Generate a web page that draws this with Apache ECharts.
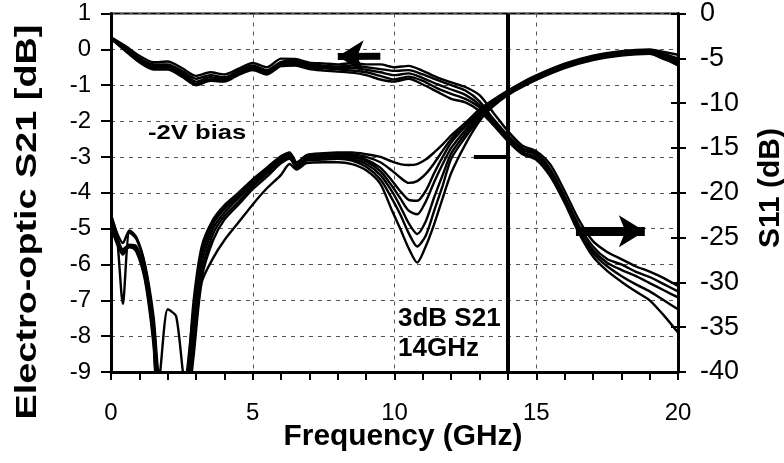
<!DOCTYPE html>
<html>
<head>
<meta charset="utf-8">
<script src="https://cdn.jsdelivr.net/npm/echarts@6/dist/echarts.min.js"></script>
<style>
  html, body { margin: 0; padding: 0; background: #fff; }
  #chart { width: 784px; height: 463px; }
</style>
</head>
<body>
<div id="chart"></div>
<script>
// Frequency grid (GHz) for the electro-optic response traces
const freqS21 = [0,0.5,1,1.5,2,2.5,3,3.5,4,4.5,5,5.5,6,6.5,7,7.5,8,8.5,9,9.5,10,10.5,11,11.5,12,12.5,13,13.5,14,14.5,15,15.5,16,16.5,17,17.5,18,18.5,19,19.5,20];

// Electro-optic S21 [dB], one trace per measurement
const s21a = [0.34,0.10,-0.18,-0.36,-0.34,-0.52,-0.74,-0.64,-0.70,-0.54,-0.38,-0.50,-0.26,-0.27,-0.37,-0.39,-0.42,-0.38,-0.42,-0.42,-0.50,-0.46,-0.60,-0.78,-0.92,-1.05,-1.28,-1.78,-2.28,-2.68,-2.84,-3.22,-3.95,-4.75,-5.35,-5.65,-5.85,-6.05,-6.20,-6.38,-6.60];
const s21b = [0.30,0.05,-0.25,-0.42,-0.42,-0.60,-0.82,-0.72,-0.78,-0.60,-0.45,-0.58,-0.35,-0.32,-0.42,-0.45,-0.48,-0.45,-0.50,-0.55,-0.60,-0.58,-0.70,-0.85,-1.00,-1.15,-1.45,-1.95,-2.40,-2.75,-2.90,-3.35,-4.10,-4.90,-5.50,-5.85,-6.00,-6.20,-6.35,-6.55,-6.75];
const s21c = [0.28,0.02,-0.30,-0.47,-0.47,-0.66,-0.90,-0.78,-0.82,-0.64,-0.50,-0.62,-0.40,-0.36,-0.46,-0.49,-0.52,-0.52,-0.57,-0.64,-0.72,-0.67,-0.80,-0.97,-1.12,-1.27,-1.55,-2.00,-2.45,-2.80,-2.95,-3.40,-4.15,-5.00,-5.60,-5.95,-6.15,-6.32,-6.52,-6.72,-6.92];
const s21d = [0.30,-0.02,-0.33,-0.52,-0.52,-0.72,-0.96,-0.84,-0.86,-0.68,-0.54,-0.66,-0.44,-0.41,-0.50,-0.53,-0.56,-0.59,-0.64,-0.74,-0.84,-0.76,-0.88,-1.08,-1.24,-1.38,-1.62,-2.06,-2.50,-2.86,-3.02,-3.48,-4.22,-5.06,-5.68,-6.05,-6.32,-6.55,-6.75,-7.00,-7.25];
const s21e = [0.30,-0.04,-0.36,-0.56,-0.56,-0.76,-1.00,-0.88,-0.90,-0.71,-0.58,-0.70,-0.47,-0.45,-0.55,-0.59,-0.62,-0.65,-0.72,-0.84,-0.90,-0.82,-0.98,-1.18,-1.38,-1.48,-1.72,-2.12,-2.56,-2.92,-3.08,-3.55,-4.28,-5.12,-5.78,-6.18,-6.48,-6.75,-7.00,-7.42,-7.90];

// Frequency grid (GHz) for the reflection traces
const freqS11 = [0,0.2,0.42,0.65,0.9,1.2,1.5,1.7,2.0,2.3,2.6,2.9,3.2,3.6,4.0,4.5,5.0,5.5,6.0,6.3,6.55,6.9,7.5,8.0,8.5,9.0,9.5,9.9,10.2,10.5,10.8,11.1,11.4,11.7,12.0,12.5,13.0,13.5,14.0,14.5,15.0,16.0,17.0,18.0,19.0,19.5,20.0];

// S11 (dB), one trace per measurement
const s11a = [-22.4,-24.4,-25.6,-24.2,-25.0,-28.0,-33.8,-40.5,-33.0,-33.8,-41.0,-33.5,-26.5,-23.3,-21.6,-20.2,-18.6,-17.3,-16.0,-15.5,-16.6,-15.8,-15.6,-15.5,-15.5,-15.7,-16.0,-16.5,-16.8,-16.9,-16.8,-16.3,-15.5,-14.6,-13.6,-12.2,-10.7,-9.6,-8.6,-7.7,-6.9,-5.6,-4.7,-4.2,-4.0,-4.3,-4.6];
const s11b = [-22.6,-24.6,-32.4,-24.4,-25.2,-28.2,-34.5,-42.0,-45.0,-45.0,-44.0,-32.5,-26.0,-23.0,-21.4,-20.0,-18.5,-17.2,-15.9,-15.6,-16.7,-15.9,-15.7,-15.6,-15.7,-16.0,-16.6,-17.5,-18.3,-18.9,-18.7,-17.9,-16.7,-15.3,-14.0,-12.4,-10.9,-9.7,-8.7,-7.8,-7.0,-5.7,-4.8,-4.3,-4.1,-4.5,-5.0];
const s11c = [-22.8,-24.8,-26.3,-25.8,-26.0,-28.8,-35.0,-43.0,-45.0,-44.0,-45.0,-34.0,-27.0,-23.5,-21.8,-20.4,-18.8,-17.5,-16.2,-15.8,-16.9,-16.1,-15.9,-15.8,-15.9,-16.3,-17.2,-18.6,-19.8,-20.8,-20.9,-19.8,-17.8,-16.0,-14.4,-12.6,-11.0,-9.8,-8.8,-7.9,-7.1,-5.8,-4.9,-4.4,-4.2,-4.6,-5.3];
const s11d = [-23.0,-25.0,-26.5,-26.0,-26.2,-29.0,-35.5,-44.0,-45.0,-45.0,-45.0,-35.0,-27.8,-24.0,-22.2,-20.6,-19.0,-17.7,-16.3,-15.9,-17.0,-16.2,-16.0,-15.9,-16.0,-16.5,-17.6,-19.2,-20.6,-22.0,-22.4,-21.0,-18.8,-16.8,-15.0,-13.0,-11.2,-9.9,-8.9,-8.0,-7.2,-5.9,-5.0,-4.5,-4.3,-4.8,-5.5];
const s11e = [-23.2,-25.2,-26.6,-26.1,-26.4,-29.3,-36.0,-45.0,-45.0,-45.0,-45.0,-36.5,-28.8,-24.6,-22.6,-21.0,-19.3,-17.9,-16.5,-16.0,-17.1,-16.3,-16.1,-16.0,-16.2,-16.8,-18.0,-19.8,-21.5,-23.4,-24.6,-23.2,-20.5,-18.0,-15.6,-13.4,-11.5,-10.1,-9.0,-8.1,-7.3,-6.0,-5.1,-4.6,-4.4,-5.0,-5.8];
const s11f = [-23.5,-25.4,-26.8,-26.0,-26.5,-29.5,-36.5,-45.0,-45.0,-45.0,-45.0,-37.5,-29.5,-25.3,-23.0,-21.3,-19.6,-18.2,-16.7,-16.2,-17.2,-16.4,-16.3,-16.2,-16.4,-17.1,-18.5,-20.6,-22.4,-24.5,-26.0,-24.8,-22.0,-19.2,-16.2,-13.8,-11.8,-10.3,-9.1,-8.2,-7.4,-6.1,-5.2,-4.7,-4.5,-5.1,-5.6];
const s11g = [-23.8,-25.6,-26.9,-25.9,-26.6,-29.8,-37.0,-45.0,-45.0,-45.0,-45.0,-38.6,-30.0,-27.3,-25.3,-23.3,-21.3,-19.5,-18.0,-16.8,-17.4,-16.7,-16.6,-16.6,-16.8,-17.5,-19.0,-21.9,-24.0,-26.2,-27.8,-26.0,-23.5,-20.6,-17.8,-14.6,-12.0,-10.2,-8.9,-7.9,-7.2,-5.9,-5.0,-4.6,-4.4,-4.9,-5.4];

// Axis ranges and annotation values
const leftRange = [-9, 1];
const rightRange = [-40, 0];
const bandwidthGHz = 14;       // 3 dB electro-optic bandwidth
const threeDbLevel = -3;       // S21 level of the bandwidth marker
const s21Arrow = [[9.5, -0.19], [8.0, -0.2]];    // points to the S21 axis
const s11Arrow = [[16.4, -24.3], [18.83, -24.3]]; // points to the S11 axis

const FONT = 'Liberation Sans, Arial, sans-serif';
const s21Traces = [s21a, s21b, s21c, s21d, s21e];
const s11Traces = [s11a, s11b, s11c, s11d, s11e, s11f, s11g];

function pairs(xs, ys) { return xs.map((x, i) => [x, ys[i]]); }

const baseLine = {
  type: 'line', showSymbol: false, symbol: 'none', smooth: 0.25, clip: true, silent: true,
  lineStyle: { color: '#000', width: 2.4 }, z: 3
};

const series = [];
s21Traces.forEach((ys, i) => {
  const s = Object.assign({}, baseLine, { name: 'S21-' + i, yAxisIndex: 0, data: pairs(freqS21, ys) });
  if (i === 0) {
    s.markLine = {
      silent: true, animation: false, symbol: ['none', 'none'], label: { show: false },
      data: [
        { xAxis: bandwidthGHz, lineStyle: { color: '#000', width: 4, type: 'solid' } },
        [{ coord: [12.8, threeDbLevel], lineStyle: { color: '#000', width: 4, type: 'solid' } },
         { coord: [bandwidthGHz, threeDbLevel] }],
        [{ coord: s21Arrow[0], symbol: 'none', lineStyle: { color: '#000', width: 7, type: 'solid' } },
         { coord: s21Arrow[1], symbol: 'arrow', symbolSize: [24, 26] }]
      ]
    };
  }
  series.push(s);
});
s11Traces.forEach((ys, i) => {
  const s = Object.assign({}, baseLine, { name: 'S11-' + i, yAxisIndex: 1, data: pairs(freqS11, ys) });
  if (i === 0) {
    s.markLine = {
      silent: true, animation: false, symbol: ['none', 'none'], label: { show: false },
      data: [
        [{ coord: s11Arrow[0], symbol: 'none', lineStyle: { color: '#000', width: 9, type: 'solid' } },
         { coord: s11Arrow[1], symbol: 'arrow', symbolSize: [24, 26] }]
      ]
    };
  }
  series.push(s);
});

const gridDash = { color: '#555', width: 1, type: [4, 5] };

const chart = echarts.init(document.getElementById('chart'), null, { renderer: 'canvas' });
chart.setOption({
  animation: false,
  backgroundColor: '#fff',
  grid: { left: 111, right: 106, top: 13, bottom: 91, show: true, borderColor: '#000', borderWidth: 2, backgroundColor: 'transparent' },
  xAxis: {
    type: 'value', min: 0, max: 20, interval: 5,
    axisLine: { show: true, onZero: false, lineStyle: { color: '#000', width: 3 } },
    axisTick: { show: true, length: 8, lineStyle: { color: '#000', width: 2 } },
    minorTick: { show: true, splitNumber: 5, length: 8, lineStyle: { color: '#000', width: 2 } },
    axisLabel: { fontFamily: FONT, fontSize: 24, color: '#000', margin: 29 },
    splitLine: { show: true, lineStyle: gridDash }
  },
  yAxis: [
    {
      type: 'value', position: 'left', min: leftRange[0], max: leftRange[1], interval: 1,
      axisLine: { show: true, onZero: false, lineStyle: { color: '#000', width: 3 } },
      axisTick: { show: true, length: 10, lineStyle: { color: '#000', width: 2 } },
      axisLabel: { fontFamily: FONT, fontSize: 24, color: '#000', margin: 20 },
      splitLine: { show: true, lineStyle: gridDash }
    },
    {
      type: 'value', position: 'right', min: rightRange[0], max: rightRange[1], interval: 5,
      axisLine: { show: true, onZero: false, lineStyle: { color: '#000', width: 3 } },
      axisTick: { show: true, length: 8, lineStyle: { color: '#000', width: 2 } },
      axisLabel: { fontFamily: FONT, fontSize: 27, color: '#000', margin: 22 },
      splitLine: { show: false }
    },
    {
      // inner half of the right-axis tick marks
      type: 'value', position: 'right', min: rightRange[0], max: rightRange[1], interval: 5,
      axisLine: { show: false, onZero: false },
      axisTick: { show: true, inside: true, length: 7, lineStyle: { color: '#000', width: 2 } },
      axisLabel: { show: false },
      splitLine: { show: false }
    }
  ],
  graphic: [
    { type: 'text', x: 28, y: 222, rotation: Math.PI / 2, scaleX: 1.26, silent: true,
      style: { text: 'Electro-optic S21 [dB]', font: 'bold 30px ' + FONT, fill: '#000', textAlign: 'center', textVerticalAlign: 'middle' } },
    { type: 'text', x: 771, y: 188, rotation: Math.PI / 2, silent: true,
      style: { text: 'S11 (dB)', font: 'bold 30px ' + FONT, fill: '#000', textAlign: 'center', textVerticalAlign: 'middle' } },
    { type: 'text', x: 403, y: 437, scaleX: 1.03, silent: true,
      style: { text: 'Frequency (GHz)', font: 'bold 29px ' + FONT, fill: '#000', textAlign: 'center', textVerticalAlign: 'middle' } },
    { type: 'text', x: 148, y: 133, scaleX: 1.22, silent: true,
      style: { text: '-2V bias', font: 'bold 21px ' + FONT, fill: '#000', textAlign: 'left', textVerticalAlign: 'middle' } },
    { type: 'text', x: 398, y: 319, silent: true,
      style: { text: '3dB S21', font: 'bold 26px ' + FONT, fill: '#000', textAlign: 'left', textVerticalAlign: 'middle' } },
    { type: 'text', x: 398, y: 349, silent: true,
      style: { text: '14GHz', font: 'bold 26px ' + FONT, fill: '#000', textAlign: 'left', textVerticalAlign: 'middle' } }
  ],
  series: series
});
</script>
</body>
</html>
